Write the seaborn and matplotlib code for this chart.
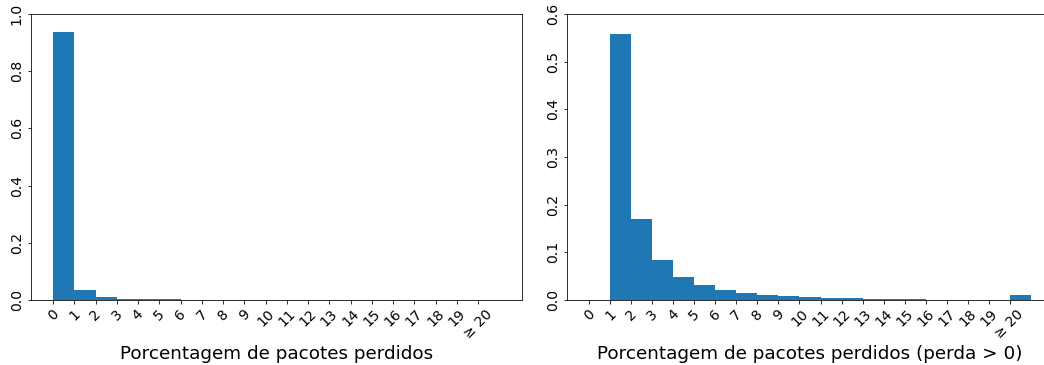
import numpy as np
import pandas as pd
import matplotlib
matplotlib.use("Agg")
import matplotlib.pyplot as plt
import seaborn as sns

# ---- data ----
tick_labels = [str(i) for i in range(20)] + ["\u2265 20"]
bins_all = list(range(0, 21))          # bin starts for left chart (0 .. >=20)
frac_all = [0.936, 0.035, 0.011, 0.005, 0.003, 0.002, 0.0014, 0.001, 0.0007,
            0.0006, 0.0004, 0.0003, 0.0003, 0.0002, 0.0002, 0.0001, 0.0,
            0.0, 0.0, 0.0, 0.0007]
bins_pos = list(range(1, 21))          # bin starts for right chart (loss > 0)
frac_pos = [0.557, 0.170, 0.084, 0.048, 0.0315, 0.021, 0.0147, 0.0105, 0.0085,
            0.0063, 0.0045, 0.0043, 0.0025, 0.0023, 0.002, 0.0, 0.0, 0.0,
            0.0, 0.0108]
xlabel_left = "Porcentagem de pacotes perdidos"
xlabel_right = "Porcentagem de pacotes perdidos (perda > 0)"

df_all = pd.DataFrame({"x": bins_all, "w": frac_all})
df_pos = pd.DataFrame({"x": bins_pos, "w": frac_pos})

color = "#1f77b4"
DPI = 72
W, H = 1044, 365
fig = plt.figure(figsize=(W / DPI, H / DPI), dpi=DPI)
ax1 = fig.add_axes([30.7 / W, 1 - 300 / H, (521.6 - 30.7) / W, (300 - 14) / H])
ax2 = fig.add_axes([567.4 / W, 1 - 300 / H, (1052.6 - 567.4) / W, (300 - 14) / H])

edges = list(range(0, 22))
sns.histplot(data=df_all, x="x", weights="w", bins=edges, ax=ax1, color=color,
             alpha=1, linewidth=0, edgecolor=color)
sns.histplot(data=df_pos, x="x", weights="w", bins=edges, ax=ax2, color=color,
             alpha=1, linewidth=0, edgecolor=color)

tick_fs = 14
label_fs = 18.4
for ax, xl, ylim, yt in [(ax1, xlabel_left, 1.0, np.arange(0, 1.01, 0.2)),
                         (ax2, xlabel_right, 0.6, np.arange(0, 0.61, 0.1))]:
    ax.set_xlim(-1.05, 22.05)
    ax.set_ylim(0, ylim)
    ax.set_xticks(range(21))
    ax.set_xticklabels(tick_labels, rotation=45, fontsize=tick_fs)
    ax.set_yticks(yt)
    ax.set_yticklabels([f"{v:.1f}" for v in yt], rotation=90, va="center",
                       fontsize=tick_fs)
    ax.set_ylabel("")
    ax.set_xlabel(xl, fontsize=label_fs)
    for s in ax.spines.values():
        s.set_color("black")
        s.set_linewidth(0.8)

fig.savefig("out.png", dpi=DPI)
